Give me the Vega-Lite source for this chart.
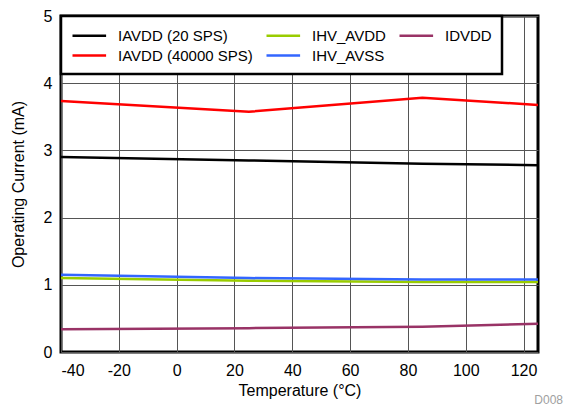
{
  "$schema": "https://vega.github.io/schema/vega-lite/v6.json",
  "width": 477,
  "height": 336,
  "autosize": "none",
  "padding": {"left": 61, "top": 16, "right": 30, "bottom": 56},
  "background": "white",
  "title": {"text": "D008", "orient": "bottom", "anchor": "end", "fontSize": 12, "color": "#a0a0a0", "fontWeight": "normal", "font": "Liberation Sans", "offset": 0, "dx": 20, "dy": -3},
  "config": {
    "font": "Liberation Sans",
    "view": {"stroke": "black", "strokeWidth": 3},
    "axis": {"gridColor": "#555555", "gridOpacity": 1, "gridWidth": 1, "domain": false, "ticks": false, "labelFontSize": 16, "labelColor": "black", "titleFontSize": 16, "titleFontWeight": "normal", "titleColor": "black"}
  },
  "data": {
    "values": [
      {"series": "IAVDD (20 SPS)", "temp": -40, "current": 2.90},
      {"series": "IAVDD (20 SPS)", "temp": 25, "current": 2.85},
      {"series": "IAVDD (20 SPS)", "temp": 85, "current": 2.80},
      {"series": "IAVDD (20 SPS)", "temp": 125, "current": 2.78},
      {"series": "IAVDD (40000 SPS)", "temp": -40, "current": 3.735},
      {"series": "IAVDD (40000 SPS)", "temp": 25, "current": 3.575},
      {"series": "IAVDD (40000 SPS)", "temp": 85, "current": 3.785},
      {"series": "IAVDD (40000 SPS)", "temp": 125, "current": 3.675},
      {"series": "IHV_AVDD", "temp": -40, "current": 1.10},
      {"series": "IHV_AVDD", "temp": 25, "current": 1.06},
      {"series": "IHV_AVDD", "temp": 85, "current": 1.04},
      {"series": "IHV_AVDD", "temp": 125, "current": 1.04},
      {"series": "IHV_AVSS", "temp": -40, "current": 1.15},
      {"series": "IHV_AVSS", "temp": 25, "current": 1.10},
      {"series": "IHV_AVSS", "temp": 85, "current": 1.08},
      {"series": "IHV_AVSS", "temp": 125, "current": 1.08},
      {"series": "IDVDD", "temp": -40, "current": 0.34},
      {"series": "IDVDD", "temp": 25, "current": 0.355},
      {"series": "IDVDD", "temp": 85, "current": 0.375},
      {"series": "IDVDD", "temp": 125, "current": 0.42}
    ]
  },
  "mark": {"type": "line", "strokeWidth": 2.5},
  "encoding": {
    "x": {"field": "temp", "type": "quantitative", "scale": {"domain": [-40, 125], "nice": false}, "axis": {"values": [-40, -20, 0, 20, 40, 60, 80, 100, 120], "labelExpr": "'' + datum.value", "title": "Temperature (°C)", "labelPadding": 10, "titlePadding": 4}},
    "y": {"field": "current", "type": "quantitative", "scale": {"domain": [0, 5], "nice": false}, "axis": {"values": [0, 1, 2, 3, 4, 5], "title": "Operating Current (mA)", "labelPadding": 9, "titlePadding": 17}},
    "color": {
      "field": "series", "type": "nominal",
      "scale": {"domain": ["IAVDD (20 SPS)", "IAVDD (40000 SPS)", "IHV_AVDD", "IHV_AVSS", "IDVDD"], "range": ["#000000", "#ff0000", "#99cc00", "#3366ff", "#993366"]},
      "legend": {"orient": "top-left", "offset": 0, "columns": 3, "title": null, "fillColor": "white", "strokeColor": "black", "padding": 10, "rowPadding": 2, "columnPadding": 8, "symbolType": "M-1,0H3.2", "symbolSize": 256, "symbolStrokeWidth": 2.5, "labelFontSize": 15, "labelColor": "black", "labelOffset": 28, "labelLimit": 300,
        "encode": {"legend": {"update": {"strokeWidth": {"value": 2.5}}}}}
    }
  }
}
